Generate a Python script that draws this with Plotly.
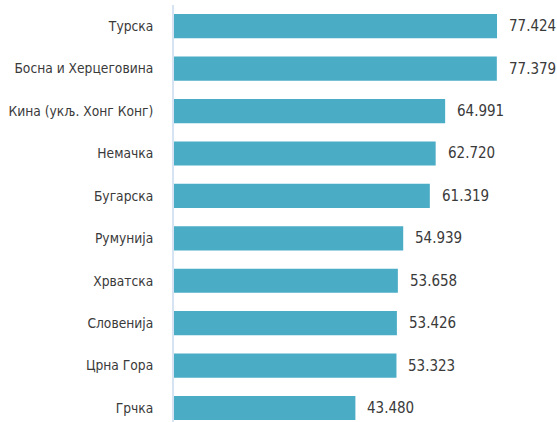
import plotly.graph_objects as go

categories = ["Турска", "Босна и Херцеговина", "Кина (укљ. Хонг Конг)", "Немачка",
              "Бугарска", "Румунија", "Хрватска", "Словенија", "Црна Гора", "Грчка"]
values = [77.424, 77.379, 64.991, 62.720, 61.319, 54.939, 53.658, 53.426, 53.323, 43.480]
labels = ["77.424", "77.379", "64.991", "62.720", "61.319", "54.939", "53.658", "53.426", "53.323", "43.480"]

FONT = "Liberation Sans Narrow, DejaVu Sans Condensed, Arial Narrow, sans-serif"

fig = go.Figure(go.Bar(
    x=values, y=categories, orientation="h",
    marker=dict(color="#4BACC6", line=dict(width=0)),
    width=0.57,
))

for c, v, t in zip(categories, values, labels):
    fig.add_annotation(x=v, y=c, text=t, showarrow=False, xanchor="left",
                       xshift=10, font=dict(family=FONT, size=15, color="#3a3a3a"))

fig.update_layout(
    width=557, height=422,
    margin=dict(l=174, r=0, t=5, b=0, autoexpand=False),
    plot_bgcolor="white", paper_bgcolor="white",
    showlegend=False,
    font=dict(family=FONT, size=14, color="#3a3a3a"),
    xaxis=dict(range=[0, 91.8], visible=False, showgrid=False, zeroline=False),
    yaxis=dict(categoryorder="array", categoryarray=categories,
               range=[9.33, -0.5], showgrid=False, zeroline=False,
               showline=True, linecolor="#D5E3F3", linewidth=2,
               ticks="", ticklabelstandoff=16, automargin=False,
               tickfont=dict(family=FONT, size=13.7, color="#3a3a3a")),
)

fig.write_html("out.html")
